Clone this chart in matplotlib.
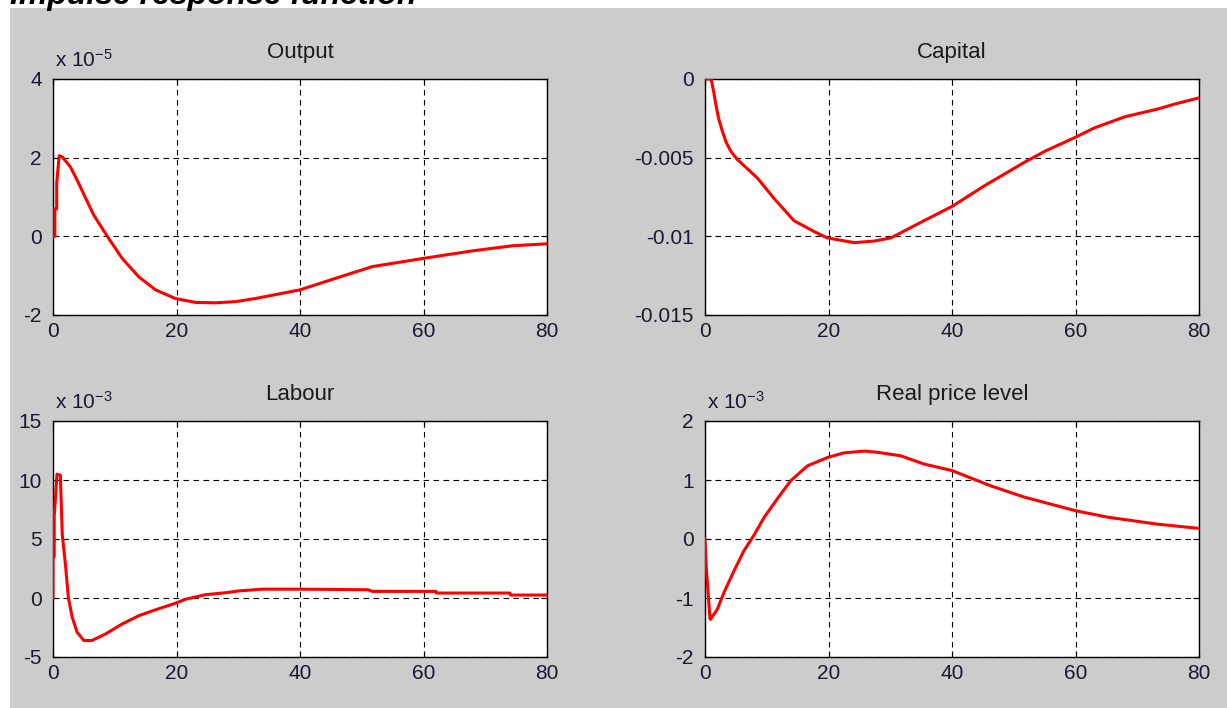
import matplotlib
matplotlib.use('Agg')
import matplotlib.pyplot as plt
from matplotlib.patches import Rectangle

plt.rcParams['font.family'] = ['Liberation Sans', 'DejaVu Sans']
plt.rcParams['mathtext.default'] = 'regular'

# impulse responses (y already in units of the axis scale)
output_t = [0, 0.3, 0.3, 0.6, 0.6, 1.0, 1.5, 2.8, 4.0, 5.2, 6.6, 8.8, 11.2, 13.9, 16.6, 19.8,
            23.1, 26.3, 29.6, 32.8, 40, 46.3, 51.7, 60, 67.9, 74.4, 80]
output_y = [0, 0, 0.7, 0.7, 1.35, 2.05, 2.02, 1.77, 1.4, 1.0, 0.54, 0.0, -0.56, -1.03, -1.36, -1.58,
            -1.68, -1.69, -1.66, -1.58, -1.36, -1.04, -0.77, -0.56, -0.37, -0.24, -0.19]

capital_t = [0, 1.0, 1.4, 1.7, 2.2, 2.8, 3.4, 4.2, 5.2, 8.5, 11.2, 14.4, 17.7, 19.8, 24.2, 27.4,
             30.1, 35.5, 40, 45.2, 51.7, 55, 60, 63.1, 68, 73.4, 76, 80]
capital_y = [0, 0, -0.0008, -0.0015, -0.0025, -0.0033, -0.0040, -0.0046, -0.0051, -0.0063,
             -0.0076, -0.0090, -0.0097, -0.0101, -0.0104, -0.0103, -0.0101, -0.0090, -0.0081,
             -0.0068, -0.0053, -0.0046, -0.0037, -0.0031, -0.0024, -0.0019, -0.0016, -0.0012]

labour_t = [0, 0, 0.2, 0.2, 0.65, 1.2, 1.35, 1.5, 2.0, 2.5, 3.1, 3.9, 5.0, 6.3, 8.5, 11.2, 13.9,
            16.6, 19.8, 21.5, 24.7, 28, 30.1, 34, 40, 51, 51.7, 62, 62.1, 74, 74.1, 80]
labour_y = [0, 3.5, 3.5, 7.0, 10.5, 10.4, 7.8, 5.4, 2.9, 0.0, -1.6, -2.9, -3.6, -3.6, -3.05, -2.2,
            -1.5, -1.0, -0.45, -0.1, 0.28, 0.45, 0.6, 0.75, 0.75, 0.7, 0.56, 0.56, 0.42, 0.42,
            0.25, 0.25]

price_t = [0, 0.2, 0.5, 0.8, 0.9, 2.0, 3.1, 4.7, 6.3, 7.9, 9.6, 11.7, 13.9, 16.6, 19.8, 22.5,
           25.8, 27.9, 31.7, 35.5, 40, 46.3, 51.7, 60, 65.2, 73.4, 80]
price_y = [0, -0.47, -0.9, -1.35, -1.36, -1.19, -0.9, -0.54, -0.2, 0.06, 0.37, 0.68, 0.99, 1.24,
           1.38, 1.46, 1.49, 1.47, 1.41, 1.27, 1.16, 0.9, 0.71, 0.48, 0.37, 0.25, 0.18]

panels = [
    ('Output', output_t, output_y, [-2, 0, 2, 4], ['-2', '0', '2', '4'], '-5'),
    ('Capital', capital_t, capital_y, [-0.015, -0.01, -0.005, 0],
     ['-0.015', '-0.01', '-0.005', '0'], None),
    ('Labour', labour_t, labour_y, [-5, 0, 5, 10, 15], ['-5', '0', '5', '10', '15'], '-3'),
    ('Real price level', price_t, price_y, [-2, -1, 0, 1, 2], ['-2', '-1', '0', '1', '2'], '-3'),
]
xticks = [0, 20, 40, 60, 80]

W, H = 1227, 708
fig = plt.figure(figsize=(W / 100, H / 100), dpi=100, facecolor='white')
fig.patches.append(Rectangle((10 / W, 0), 1, 700 / H, transform=fig.transFigure,
                             facecolor='#cccccc', edgecolor='none', zorder=-10))
fig.text(10 / W, 1 - 4 / H, 'Impulse response function', fontsize=23, fontweight='bold',
         fontstyle='italic', va='baseline', ha='left')

# axes boxes in pixels: left, top
boxes = [(53, 79), (705, 79), (53, 421), (705, 421)]
aw, ah = 494, 236

for (title, t, y, yt, ytl, expo), (px, py) in zip(panels, boxes):
    ax = fig.add_axes([px / W, 1 - (py + ah) / H, aw / W, ah / H])
    ax.plot(t, y, color='red', linewidth=2.2, zorder=3)
    ax.set_xlim(0, 80)
    ax.set_ylim(yt[0], yt[-1])
    ax.set_xticks(xticks)
    ax.set_xticklabels([str(v) for v in xticks])
    ax.set_yticks(yt)
    ax.set_yticklabels(ytl)
    ax.grid(True, color='black', linestyle=(0, (5, 4)), linewidth=0.8)
    ax.tick_params(direction='in', top=True, right=True, length=4, labelsize=15,
                   width=0.8, labelcolor='#1a1a2e')
    ax.tick_params(axis='y', pad=8)
    ax.tick_params(axis='x', pad=5)
    for s in ax.spines.values():
        s.set_linewidth(1.0)
    ax.set_title(title, fontsize=16, pad=15, color='#1a1a1a')
    if expo:
        ax.text(2 / aw, 1 + 12 / ah, 'x 10$^{' + expo + '}$', transform=ax.transAxes,
                fontsize=15, va='baseline', ha='left', color='#1a1a2e')

fig.savefig('out.png', dpi=100, facecolor=fig.get_facecolor())
